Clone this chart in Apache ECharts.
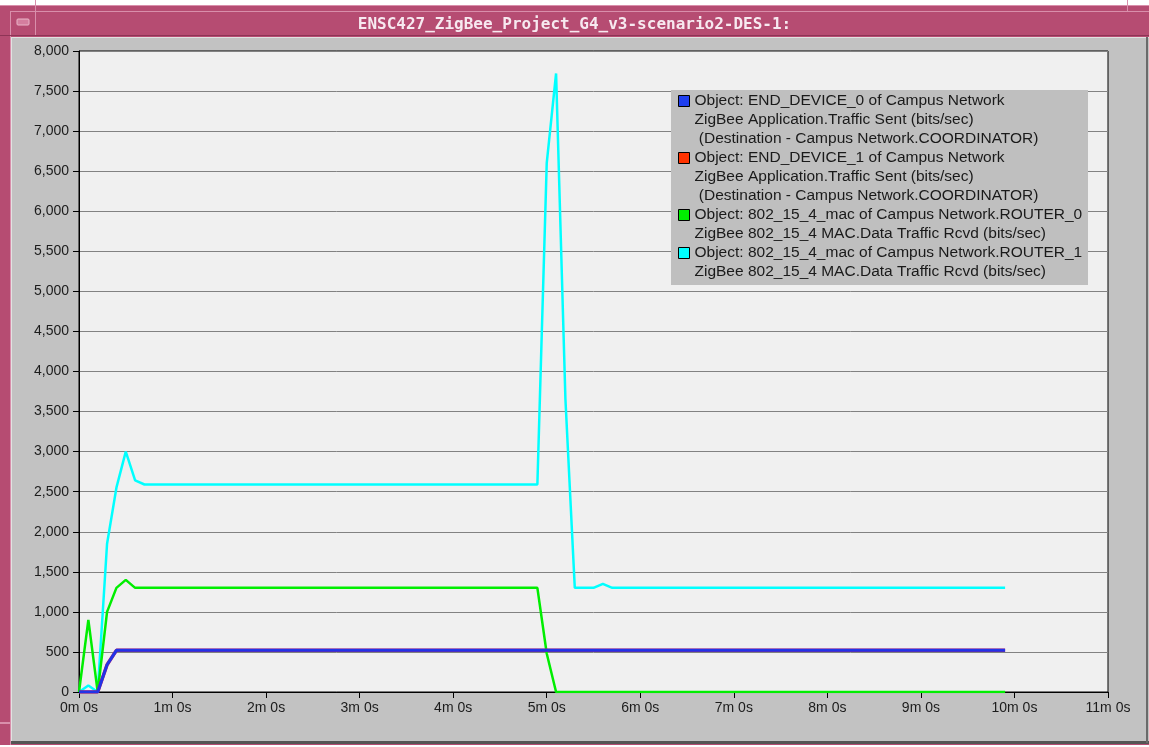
<!DOCTYPE html>
<html>
<head>
<meta charset="utf-8">
<script src="https://cdn.jsdelivr.net/npm/echarts@6/dist/echarts.min.js"></script>
<style>
html,body{margin:0;padding:0;background:#fff;}
#chart{width:1149px;height:747px;}
</style>
</head>
<body>
<div id="chart"></div>
<script>
// ---- data (time in minutes, values in bits/sec) ----
const chartTitle = 'ENSC427_ZigBee_Project_G4_v3-scenario2-DES-1:';

const nameDev0 = 'Object: END_DEVICE_0 of Campus Network\nZigBee Application.Traffic Sent (bits/sec)\n (Destination - Campus Network.COORDINATOR)';
const nameDev1 = 'Object: END_DEVICE_1 of Campus Network\nZigBee Application.Traffic Sent (bits/sec)\n (Destination - Campus Network.COORDINATOR)';
const nameRouter0 = 'Object: 802_15_4_mac of Campus Network.ROUTER_0\nZigBee 802_15_4 MAC.Data Traffic Rcvd (bits/sec)';
const nameRouter1 = 'Object: 802_15_4_mac of Campus Network.ROUTER_1\nZigBee 802_15_4 MAC.Data Traffic Rcvd (bits/sec)';

const timeDev0 = [0, 0.1, 0.2, 0.3, 0.4, 9.9];
const valDev0  = [0, 0, 0, 340, 520, 520];

const timeDev1 = [0, 0.1, 0.2, 0.3, 0.4, 9.9];
const valDev1  = [0, 0, 0, 340, 520, 520];

const timeRouter0 = [0, 0.1, 0.2, 0.3, 0.4, 0.5, 0.6, 4.9, 5.0, 5.1, 9.9];
const valRouter0  = [0, 900, 0, 1000, 1300, 1400, 1300, 1300, 480, 0, 0];

const timeRouter1 = [0, 0.1, 0.2, 0.3, 0.4, 0.5, 0.6, 0.7, 4.9, 5.0, 5.1, 5.2, 5.3, 5.5, 5.6, 5.7, 9.9];
const valRouter1  = [0, 80, 0, 1850, 2550, 3000, 2640, 2590, 2590, 6600, 7720, 3650, 1300, 1300, 1350, 1300, 1300];

const xTickValues = [0, 1, 2, 3, 4, 5, 6, 7, 8, 9, 10, 11];
const yTickStep = 500;

function pairs(t, v) { return t.map((x, i) => [x, v[i]]); }

// legend text: blank lines are added so that the colour box sits beside the first line
const legendPad = {};
legendPad[nameDev0] = ['\n\n', ''];
legendPad[nameDev1] = ['\n\n', ''];
legendPad[nameRouter0] = ['\n\n', '\n'];
legendPad[nameRouter1] = ['\n', ''];

const chart = echarts.init(document.getElementById('chart'), null, {renderer: 'canvas'});

const labelFont = {fontFamily: 'Liberation Sans, Arial, sans-serif', fontSize: 14, color: '#1c1c1c'};

const option = {
  animation: false,
  backgroundColor: '#ffffff',
  title: {
    text: chartTitle,
    left: 'center',
    top: 12,
    textStyle: {fontFamily: 'DejaVu Sans Mono, monospace', fontWeight: 'bold', fontSize: 16, color: '#f7e9f0'}
  },
  graphic: [
    // window frame
    {type: 'rect', z: -10, shape: {x: 0, y: 5, width: 1149, height: 740}, style: {fill: '#b64c72'}},
    {type: 'rect', z: -9, shape: {x: 0, y: 5, width: 1149, height: 1}, style: {fill: '#d98fab'}},
    {type: 'rect', z: -9, shape: {x: 11, y: 11, width: 1138, height: 1}, style: {fill: '#d98fab'}},
    {type: 'rect', z: -9, shape: {x: 10, y: 11, width: 1, height: 734}, style: {fill: '#d98fab'}},
    {type: 'rect', z: -9, shape: {x: 35, y: 0, width: 1, height: 36}, style: {fill: '#d98fab'}},
    {type: 'rect', z: -9, shape: {x: 1127, y: 0, width: 1, height: 11}, style: {fill: '#d98fab'}},
    {type: 'rect', z: -9, shape: {x: 0, y: 35, width: 1149, height: 1}, style: {fill: '#8e3456'}},
    {type: 'rect', z: -9, shape: {x: 0, y: 722, width: 11, height: 2}, style: {fill: '#d98fab'}},
    // minimize button
    {type: 'rect', z: -8, shape: {x: 17, y: 19, width: 12, height: 6, r: 1}, style: {fill: '#d47e9e', stroke: '#e9b5c8', lineWidth: 1}},
    // grey panel
    {type: 'rect', z: -7, shape: {x: 11, y: 37, width: 1138, height: 706}, style: {fill: '#c2c2c2'}},
    {type: 'rect', z: -6, shape: {x: 11, y: 37, width: 1138, height: 1}, style: {fill: '#e2e2e2'}},
    {type: 'rect', z: -6, shape: {x: 11, y: 37, width: 1, height: 706}, style: {fill: '#e2e2e2'}},
    {type: 'rect', z: -6, shape: {x: 11, y: 741, width: 1138, height: 3}, style: {fill: '#555555'}},
    {type: 'rect', z: -6, shape: {x: 1146, y: 37, width: 2, height: 706}, style: {fill: '#6a6a6a'}},
    // legend box
    {type: 'rect', z: 3, shape: {x: 671, y: 90, width: 417, height: 195}, style: {fill: '#bfbfbf'}}
  ],
  grid: {
    left: 79, right: 41, top: 51, bottom: 55,
    outerBoundsMode: 'none',
    containLabel: false,
    show: true,
    backgroundColor: '#f0f0f0',
    borderColor: '#000000',
    borderWidth: 1
  },
  legend: {
    left: 678,
    top: 53.5,
    orient: 'vertical',
    padding: 0,
    itemGap: -38,
    itemWidth: 11,
    itemHeight: 11,
    icon: 'rect',
    selectedMode: false,
    backgroundColor: 'transparent',
    itemStyle: {borderColor: '#000000', borderWidth: 1},
    textStyle: {fontFamily: 'Liberation Sans, Arial, sans-serif', fontSize: 15.5, lineHeight: 19, color: '#1a1a1a'},
    formatter: name => legendPad[name][0] + name + legendPad[name][1],
    data: [nameDev0, nameDev1, nameRouter0, nameRouter1],
    z: 4
  },
  xAxis: {
    type: 'value',
    min: xTickValues[0],
    max: xTickValues[xTickValues.length - 1],
    interval: 1,
    axisLine: {show: true, onZero: false, lineStyle: {color: '#000', width: 1}},
    axisTick: {show: true, length: 6, lineStyle: {color: '#000'}},
    splitLine: {show: false},
    axisLabel: Object.assign({margin: 9, formatter: v => v + 'm 0s'}, labelFont)
  },
  yAxis: {
    type: 'value',
    min: 0,
    max: 8000,
    interval: yTickStep,
    axisLine: {show: true, lineStyle: {color: '#000', width: 1}},
    axisTick: {show: true, length: 6, lineStyle: {color: '#000'}},
    splitLine: {show: true, lineStyle: {color: '#828282', width: 1}},
    axisLabel: Object.assign({margin: 10, formatter: v => v.toLocaleString('en-US')}, labelFont)
  },
  series: [
    {name: nameRouter1, type: 'line', data: pairs(timeRouter1, valRouter1), showSymbol: false, symbol: 'none',
     color: '#00ffff', lineStyle: {color: '#00ffff', width: 2.5}, z: 2},
    {name: nameRouter0, type: 'line', data: pairs(timeRouter0, valRouter0), showSymbol: false, symbol: 'none',
     color: '#00ee00', lineStyle: {color: '#00ee00', width: 2.5}, z: 3},
    {name: nameDev1, type: 'line', data: pairs(timeDev1, valDev1), showSymbol: false, symbol: 'none',
     color: '#ff3300', lineStyle: {color: '#c02060', width: 3.5}, z: 4},
    {name: nameDev0, type: 'line', data: pairs(timeDev0, valDev0), showSymbol: false, symbol: 'none',
     color: '#1f3ff0', lineStyle: {color: '#2233e6', width: 3}, z: 5}
  ]
};
chart.setOption(option);
</script>
</body>
</html>
